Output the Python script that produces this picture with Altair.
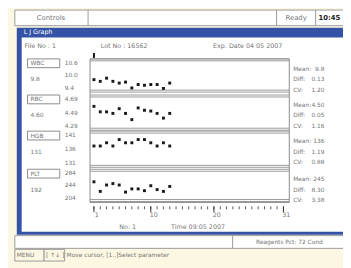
import altair as alt
import pandas as pd

# ---------------- data ----------------
runs = list(range(1, 14))
wbc = [9.83, 9.76, 9.89, 9.76, 9.69, 9.73, 9.49, 9.63, 9.60, 9.63, 9.63, 9.47, 9.69]
rbc = [4.57, 4.50, 4.50, 4.48, 4.54, 4.48, 4.40, 4.55, 4.52, 4.51, 4.48, 4.42, 4.48]
hgb = [137, 137, 138, 137, 139, 138, 138, 139, 139, 138, 137, 138, 137]
plt_vals = [254, 227, 245, 249, 245, 225, 234, 234, 229, 243, 232, 227, 241]
series = [wbc, rbc, hgb, plt_vals]

params = ["WBC", "RBC", "HGB", "PLT"]
upper = [10.6, 4.69, 141, 284]
target = [10.0, 4.49, 136, 244]
lower = [9.4, 4.29, 131, 204]
limit_labels = [["10.6", "10.0", "9.4"], ["4.69", "4.49", "4.29"],
                ["141", "136", "131"], ["284", "244", "204"]]
current = ["9.8", "4.60", "131", "192"]
means = ["9.8", "4.50", "136", "245"]
diffs = ["0.13", "0.05", "1.19", "8.30"]
cvs = ["1.20", "1.16", "0.88", "3.38"]
axis_runs = list(range(1, 32))
axis_labels = ["1", "10", "20", "31"]
axis_label_runs = [1, 10, 20, 31]

# ---------------- layout (reference pixel coords) ----------------
M = 8  # page margin
def X(v): return v - M
def Y(v): return v - M

FONT = "DejaVu Sans"
GREY = "#767676"
LINE = "#9a9a9a"
BLUE = "#3553a6"
CREAM = "#fbf7e2"

up_px = [59, 96, 133, 172]
low_px = [89, 128, 166, 201]
run_px = [96, 290]

one = pd.DataFrame({"a": [0]})

def rect(x1, y1, x2, y2, fill="white", stroke=None, sw=1):
    kw = dict(fill=fill)
    if stroke:
        kw.update(stroke=stroke, strokeWidth=sw)
    return alt.Chart(one).mark_rect(**kw).encode(
        x=alt.value(X(x1)), x2=alt.value(X(x2)),
        y=alt.value(Y(y1)), y2=alt.value(Y(y2)))

def vline(x, y1, y2, color=LINE, sw=1):
    return alt.Chart(one).mark_rule(color=color, strokeWidth=sw).encode(
        x=alt.value(X(x)), y=alt.value(Y(y1)), y2=alt.value(Y(y2)))

def txt(s, x, y, color=GREY, size=7, align="left", weight="normal"):
    return alt.Chart(one).mark_text(
        text=s, font=FONT, fontSize=size, color=color, align=align,
        baseline="middle", fontWeight=weight).encode(
        x=alt.value(X(x)), y=alt.value(Y(y)))

layers = []
# top bar
layers.append(rect(15, 7, 352, 23, "white", LINE))
layers += [vline(90, 7, 23), vline(283, 7, 23), vline(323, 7, 23)]
layers.append(txt("Controls", 52, 15, align="center"))
layers.append(txt("Ready", 303, 15, align="center"))
layers.append(txt("10:45", 326, 15, color="#222", weight="bold"))

# blue window
layers.append(rect(17, 25, 352, 237, BLUE))
layers.append(txt("L J Graph", 24, 30, color="white", size=6.5))
layers.append(rect(22, 35, 352, 234, "white"))

# header texts
layers.append(txt("File No : 1", 25, 44, size=6.5))
layers.append(txt("Lot No : 16562", 103, 44, size=6.5))
layers.append(txt("Exp. Date 04 05 2007", 218, 44, size=6.5))

# plot box
layers.append(rect(92, 57, 296, 204, "transparent", "#8a8a8a"))

xs = alt.Scale(domain=[1, 31], range=[X(run_px[0]), X(run_px[1])], nice=False, zero=False)

# cursor marker
layers.append(alt.Chart(one).mark_rule(color="#111", strokeWidth=2).encode(
    x=alt.X(datum=1, scale=xs, axis=None), y=alt.value(Y(51)), y2=alt.value(Y(56))))

for i in range(4):
    ys = alt.Scale(domain=[lower[i], upper[i]], range=[Y(low_px[i]), Y(up_px[i])],
                   nice=False, zero=False)
    lim = pd.DataFrame({"v": [upper[i], target[i], lower[i]], "lab": limit_labels[i]})
    edges = pd.DataFrame({"v": [upper[i], lower[i]]})
    # limit double lines
    layers.append(alt.Chart(edges).mark_rule(color=LINE, strokeWidth=1).encode(
        y=alt.Y("v:Q", scale=ys, axis=None),
        x=alt.value(X(92)), x2=alt.value(X(296))))
    for off, val in zip([-2, 2], [upper[i], lower[i]]):
        layers.append(alt.Chart(pd.DataFrame({"v": [val]})).mark_rule(
            color=LINE, strokeWidth=1, yOffset=off).encode(
            y=alt.Y("v:Q", scale=ys, axis=None),
            x=alt.value(X(92)), x2=alt.value(X(296))))
    # limit labels (upper nudged down, lower nudged up)
    for k, dy in zip(range(3), [2, 0, -2]):
        layers.append(alt.Chart(lim.iloc[[k]]).mark_text(
            font=FONT, fontSize=6, color=GREY, align="left", baseline="middle",
            dy=dy).encode(
            y=alt.Y("v:Q", scale=ys, axis=None), x=alt.value(X(66)), text="lab:N"))
    # points
    pts = pd.DataFrame({"run": runs, "val": series[i]})
    layers.append(alt.Chart(pts).mark_square(size=9, color="#1a1a1a", opacity=1).encode(
        x=alt.X("run:Q", scale=xs, axis=None),
        y=alt.Y("val:Q", scale=ys, axis=None)))
    # parameter box
    layers.append(rect(28, up_px[i] - 2, 61, up_px[i] + 7, "white", "#8a8a8a"))
    layers.append(txt(params[i], 31, up_px[i] + 2.5, size=6))
    layers.append(txt(current[i], 31, up_px[i] + 19, size=6))
    # stats
    layers.append(txt("Mean:", 300, up_px[i] + 8.5, size=6))
    layers.append(txt(means[i], 332, up_px[i] + 8.5, size=6, align="right"))
    layers.append(txt("Diff:", 300, up_px[i] + 19, size=6))
    layers.append(txt(diffs[i], 332, up_px[i] + 19, size=6, align="right"))
    layers.append(txt("CV:", 300, up_px[i] + 29.5, size=6))
    layers.append(txt(cvs[i], 332, up_px[i] + 29.5, size=6, align="right"))

# x axis ticks
layers.append(alt.Chart(pd.DataFrame({"run": axis_runs})).mark_rule(color="#555").encode(
    x=alt.X("run:Q", scale=xs, axis=None), y=alt.value(Y(208)), y2=alt.value(Y(211))))
lab = pd.DataFrame({"run": axis_label_runs, "lab": axis_labels})
layers.append(alt.Chart(lab).mark_rule(color="#333").encode(
    x=alt.X("run:Q", scale=xs, axis=None), y=alt.value(Y(208)), y2=alt.value(Y(214))))
layers.append(alt.Chart(lab).mark_text(font=FONT, fontSize=6.5, color=GREY,
                                       baseline="middle", dx=3).encode(
    x=alt.X("run:Q", scale=xs, axis=None), y=alt.value(Y(217)), text="lab:N"))

layers.append(txt("No:   1", 122, 229, size=6.5))
layers.append(txt("Time 09:05 2007", 175, 229, size=6.5))

# status rows
layers.append(rect(15, 238, 352, 251, "white", LINE))
layers.append(vline(238, 238, 251))
layers.append(txt("Reagents Pct:  72  Cond", 262, 245, size=6))
layers.append(rect(15, 252, 45, 264, CREAM, LINE))
layers.append(rect(45, 252, 66, 264, CREAM, LINE))
layers.append(txt("MENU", 17, 258, size=6))
layers.append(txt("[ \u2191\u2193 ]", 47, 258, size=6))
layers.append(txt("Move cursor, [1..]Select parameter", 68, 258, size=6))

chart = alt.layer(*layers).resolve_scale(x="independent", y="independent").properties(
    width=343, height=260, autosize=alt.AutoSizeParams(type="none"), padding=0,
    background=CREAM
).configure_view(stroke=None)

chart.save("out.html", embed_options={"renderer": "svg", "actions": False})
